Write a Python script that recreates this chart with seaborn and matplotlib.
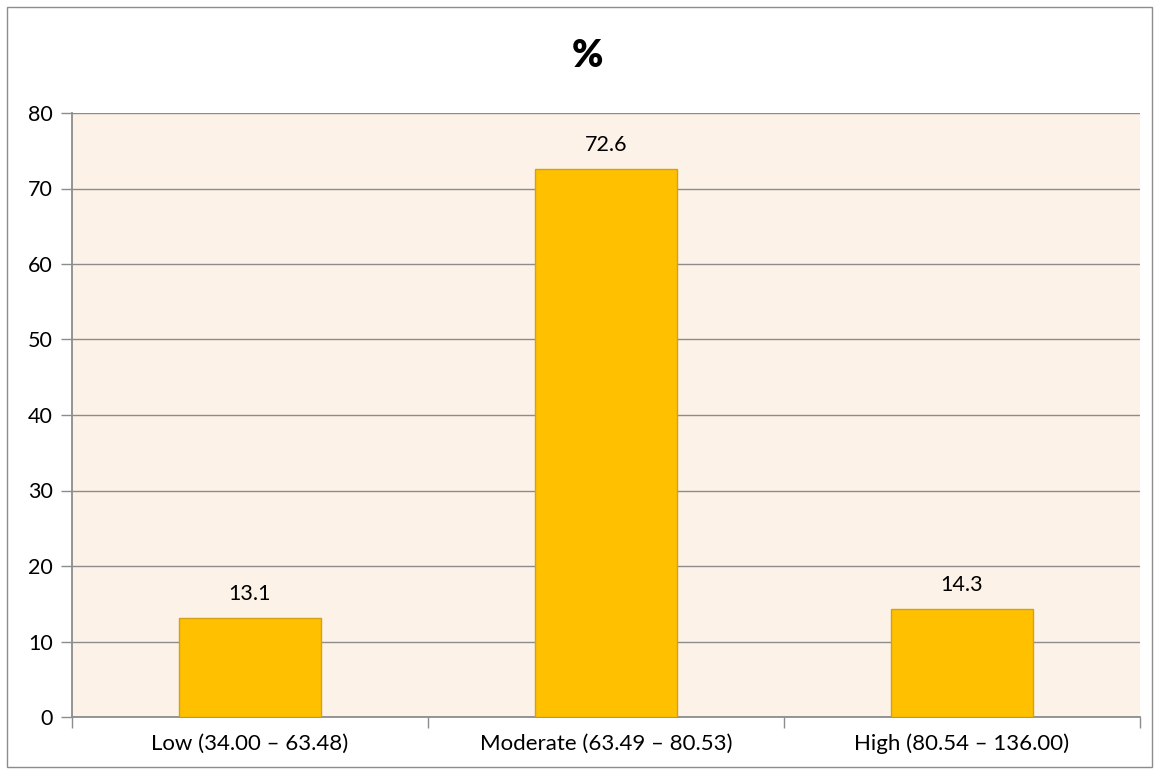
import matplotlib
matplotlib.use("Agg")
import matplotlib.pyplot as plt
import seaborn as sns
import pandas as pd
from matplotlib.patches import Rectangle

categories = ["Low (34.00 \u2013 63.48)", "Moderate (63.49 \u2013 80.53)", "High (80.54 \u2013 136.00)"]
values = [13.1, 72.6, 14.3]
value_labels = ["13.1", "72.6", "14.3"]
y_ticks = [0, 10, 20, 30, 40, 50, 60, 70, 80]
title = "%"

sns.set_theme(style="white")
plt.rcParams['font.family'] = ['Lato', 'DejaVu Sans']

W, H = 1159, 774
fig = plt.figure(figsize=(W / 100, H / 100), dpi=100)
fig.patch.set_facecolor("white")
ax = fig.add_axes([72 / W, 1 - 717 / H, (1140 - 72) / W, (717 - 113) / H])
ax.set_facecolor("#FDF2E7")

df = pd.DataFrame({"cat": categories, "val": values})
sns.barplot(data=df, x="cat", y="val", ax=ax, color="#FFC000", width=0.4,
            saturation=1, edgecolor="#D4A017", linewidth=1, zorder=3)

ax.set_xlim(-0.5, 2.5)
ax.set_ylim(0, 80)
ax.set_yticks(y_ticks)
ax.set_yticklabels([str(t) for t in y_ticks], fontsize=15.5)
ax.yaxis.grid(True, color="#8C8C8C", linewidth=1)
ax.set_axisbelow(True)
ax.set_xlabel("")
ax.set_ylabel("")

for s in ["top", "right"]:
    ax.spines[s].set_visible(False)
for s in ["left", "bottom"]:
    ax.spines[s].set_visible(True)
    ax.spines[s].set_color("#8C8C8C")
    ax.spines[s].set_linewidth(1.3)

ax.tick_params(axis="y", which="major", length=8, width=1, color="#8C8C8C",
               left=True, pad=6, labelcolor="black")
ax.set_xticks([0, 1, 2])
ax.set_xticklabels(categories, fontsize=16)
ax.tick_params(axis="x", which="major", length=0, pad=12, labelcolor="black")
ax.set_xticks([-0.5, 0.5, 1.5, 2.5], minor=True)
ax.tick_params(axis="x", which="minor", length=8, width=1, color="#8C8C8C", bottom=True)

for i, (v, lab) in enumerate(zip(values, value_labels)):
    ax.annotate(lab, (i, v), xytext=(0, 10), textcoords="offset points",
                ha="center", va="bottom", fontsize=15.5, color="black")

fig.text(587 / W, 1 - 56 / H, title, ha="center", va="center", fontsize=27,
         fontweight="heavy", color="black")

fig.add_artist(Rectangle((7 / W, 1 - 767 / H), (1152 - 7) / W, (767 - 7) / H,
                         transform=fig.transFigure, fill=False,
                         edgecolor="#8C8C8C", linewidth=1))

fig.savefig("out.png", dpi=100, facecolor="white")
